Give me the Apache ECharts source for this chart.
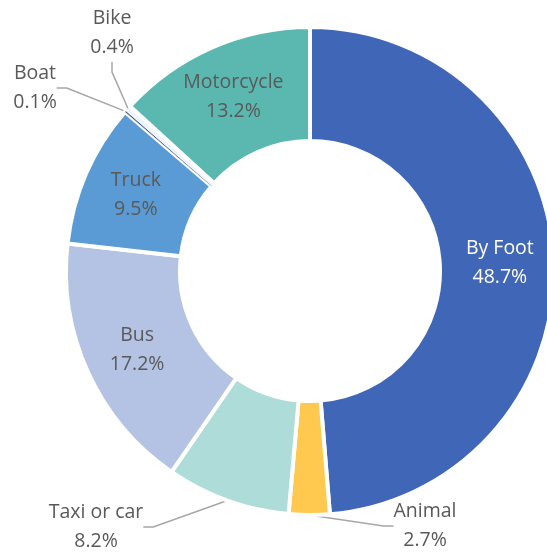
<!DOCTYPE html>
<html>
<head>
<meta charset="utf-8">
<script src="https://cdn.jsdelivr.net/npm/echarts@6/dist/echarts.min.js"></script>
<style>
  html, body { margin: 0; padding: 0; background: #fff; }
  #pie { width: 547px; height: 552px; }
</style>
</head>
<body>
<div id="pie"></div>
<script>
// 数据
const categories = ['By Foot', 'Animal', 'Taxi or car', 'Bus', 'Truck', 'Boat', 'Bike', 'Motorcycle']
const shares = [48.7, 2.7, 8.2, 17.2, 9.5, 0.1, 0.4, 13.2]
const colors = ['#4066b8', '#ffc84e', '#aedcd8', '#b4c3e3', '#5b9bd5', '#264478', '#eef3fa', '#5bb8b1']

// 外部标签的位置
const outsideLabels = {
  'Bike': [112, 33],
  'Boat': [35, 88],
  'Taxi or car': [96, 527],
  'Animal': [425, 526]
}

const myChart = echarts.init(document.querySelector('#pie'))
const option = {
  animation: false,
  textStyle: { fontFamily: 'Open Sans' },
  series: [
    {
      type: 'pie',
      center: [310, 271],
      radius: [130, 244],
      startAngle: 90,
      clockwise: true,
      avoidLabelOverlap: false,
      emphasis: { disabled: true },
      itemStyle: {
        borderColor: '#fff',
        borderWidth: 4
      },
      label: {
        position: 'inside',
        formatter: '{b}\n{d}%',
        color: '#595959',
        fontSize: 19.5,
        lineHeight: 29,
        fontFamily: 'Open Sans'
      },
      labelLine: {
        lineStyle: { color: '#a6a6a6', width: 1.5 }
      },
      labelLayout: params => {
        const name = categories[params.dataIndex]
        const pos = outsideLabels[name]
        if (!pos) return {}
        return { x: pos[0], y: pos[1], align: 'center', verticalAlign: 'middle' }
      },
      data: categories.map((name, i) => {
        const item = {
          name,
          value: shares[i],
          itemStyle: { color: colors[i] }
        }
        if (outsideLabels[name]) {
          item.label = { position: 'outside' }
          item.labelLine = { show: true, length: 10, length2: 10 }
        }
        if (name === 'By Foot') item.label = { color: '#fff' }
        if (name === 'Boat' || name === 'Bike') item.itemStyle.borderWidth = 0.5
        return item
      })
    }
  ]
}
myChart.setOption(option)
</script>
</body>
</html>
